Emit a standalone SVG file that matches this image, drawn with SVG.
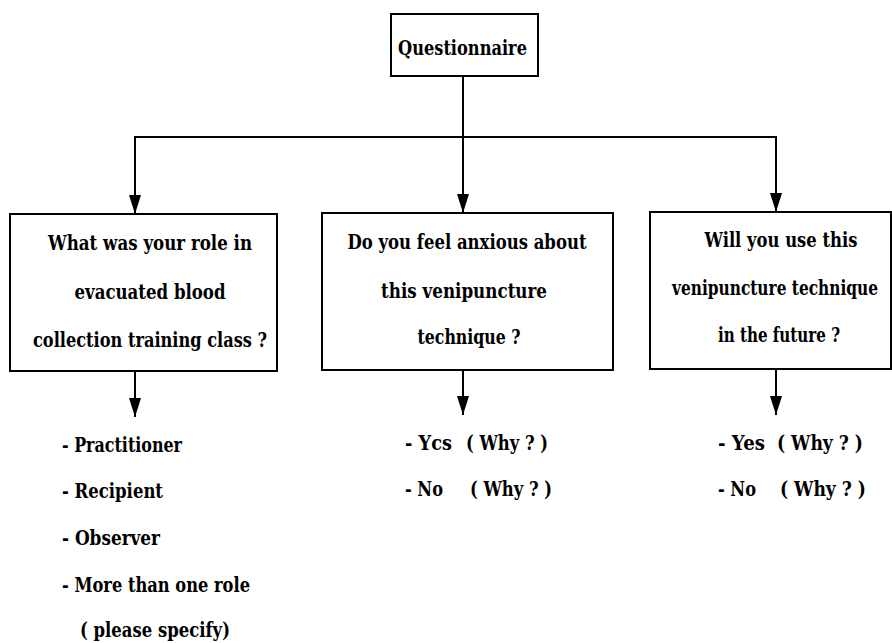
<svg xmlns="http://www.w3.org/2000/svg" width="892" height="643" viewBox="0 0 892 643">
<defs>
<marker id="arr" markerUnits="userSpaceOnUse" markerWidth="20" markerHeight="14" refX="19" refY="7" orient="auto" viewBox="0 0 20 14">
<path d="M0,1 L19,7 L0,13 Z" fill="#000"/>
</marker>
<style>
.box{fill:#fff;stroke:#000;stroke-width:2}
.c{text-anchor:middle}
.ln{fill:none;stroke:#000;stroke-width:2}
</style>
</defs>
<rect width="892" height="643" fill="#fff"/>
<g id="connectors">
<line class="ln" x1="463" y1="76" x2="463" y2="213" marker-end="url(#arr)"/>
<polyline class="ln" points="135,137 776,137 776,212" marker-end="url(#arr)"/>
<line class="ln" x1="135" y1="136" x2="135" y2="214" marker-end="url(#arr)"/>
<line class="ln" x1="135" y1="371" x2="135" y2="417" marker-end="url(#arr)"/>
<line class="ln" x1="463" y1="370" x2="463" y2="415" marker-end="url(#arr)"/>
<line class="ln" x1="776" y1="369" x2="776" y2="415" marker-end="url(#arr)"/>
</g>
<g font-family="'DejaVu Serif', 'Liberation Serif', serif" font-weight="bold" font-size="19.5" fill="#000">
<g id="questionnaire">
<rect class="box" x="391" y="14" width="147" height="62"/>
<text x="398" y="55" textLength="129" lengthAdjust="spacingAndGlyphs">Questionnaire</text>
</g>
<g id="q1">
<rect class="box" x="10" y="214" width="267" height="157"/>
<text class="c" x="150" y="250" textLength="204" lengthAdjust="spacingAndGlyphs">What was your role in</text>
<text class="c" x="150" y="299" textLength="151" lengthAdjust="spacingAndGlyphs">evacuated blood</text>
<text class="c" x="150" y="347" textLength="234" lengthAdjust="spacingAndGlyphs">collection training class ?</text>
</g>
<g id="q2">
<rect class="box" x="322" y="213" width="291" height="157"/>
<text class="c" x="467" y="249" textLength="239" lengthAdjust="spacingAndGlyphs">Do you feel anxious about</text>
<text class="c" x="464" y="298" textLength="166" lengthAdjust="spacingAndGlyphs">this venipuncture</text>
<text class="c" x="469" y="344" textLength="103" lengthAdjust="spacingAndGlyphs">technique ?</text>
</g>
<g id="q3">
<rect class="box" x="650" y="212" width="241" height="157"/>
<text class="c" x="781" y="247" textLength="153" lengthAdjust="spacingAndGlyphs">Will you use this</text>
<text class="c" x="775" y="295" textLength="206" lengthAdjust="spacingAndGlyphs">venipuncture technique</text>
<text class="c" x="779" y="342" textLength="122" lengthAdjust="spacingAndGlyphs">in the future ?</text>
</g>
<g id="a1">
<text x="62" y="452" textLength="120" lengthAdjust="spacingAndGlyphs">- Practitioner</text>
<text x="62" y="498" textLength="101" lengthAdjust="spacingAndGlyphs">- Recipient</text>
<text x="62" y="545" textLength="98" lengthAdjust="spacingAndGlyphs">- Observer</text>
<text x="62" y="592" textLength="188" lengthAdjust="spacingAndGlyphs">- More than one role</text>
<text x="80" y="637" textLength="150" lengthAdjust="spacingAndGlyphs">( please specify)</text>
</g>
<g id="a2">
<text y="450"><tspan x="405" textLength="47" lengthAdjust="spacingAndGlyphs">- Ycs</tspan> <tspan x="466" textLength="82" lengthAdjust="spacingAndGlyphs">( Why ? )</tspan></text>
<text y="496"><tspan x="405" textLength="38" lengthAdjust="spacingAndGlyphs">- No</tspan> <tspan x="470" textLength="82" lengthAdjust="spacingAndGlyphs">( Why ? )</tspan></text>
</g>
<g id="a3">
<text y="450"><tspan x="718" textLength="47" lengthAdjust="spacingAndGlyphs">- Yes</tspan> <tspan x="777" textLength="86" lengthAdjust="spacingAndGlyphs">( Why ? )</tspan></text>
<text y="496"><tspan x="718" textLength="38" lengthAdjust="spacingAndGlyphs">- No</tspan> <tspan x="780" textLength="86" lengthAdjust="spacingAndGlyphs">( Why ? )</tspan></text>
</g>
</g>
</svg>
